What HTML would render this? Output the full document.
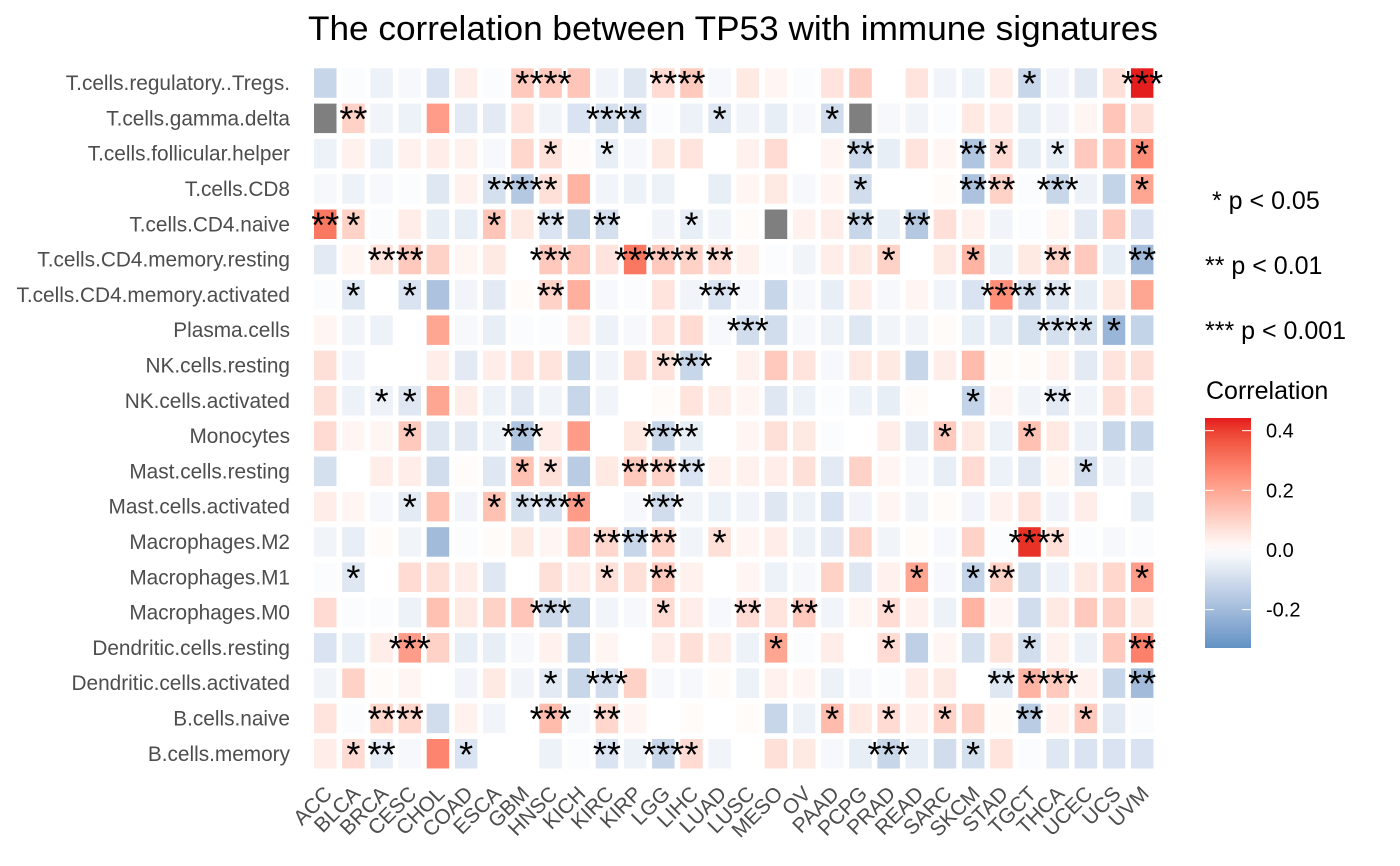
<!DOCTYPE html>
<html><head><meta charset="utf-8"><style>
html,body{margin:0;padding:0;background:#fff;}
svg{display:block;font-family:"Liberation Sans",Arial,sans-serif;}
</style></head><body>
<svg id="chart" width="1400" height="866" viewBox="0 0 1400 866" xmlns="http://www.w3.org/2000/svg">
<text x="733" y="40" text-anchor="middle" font-size="34" textLength="850" lengthAdjust="spacingAndGlyphs" fill="#000">The correlation between TP53 with immune signatures</text>
<g id="cells"></g>
<g id="stars"></g>
<g id="ylab"></g>
<g id="xlab"></g>
<g font-size="25" fill="#000">
<text x="1212" y="209">* p &lt; 0.05</text>
<text x="1205" y="274">** p &lt; 0.01</text>
<text x="1205" y="339">*** p &lt; 0.001</text>
</g>
<text x="1206" y="399" font-size="25" fill="#000">Correlation</text>
<defs><linearGradient id="cbg" x1="0" y1="1" x2="0" y2="0"></linearGradient></defs>
<rect x="1205" y="418" width="46" height="230" fill="url(#cbg)"/>
<g id="cbticks"></g>
</svg>
<script>
const cancers = ["ACC","BLCA","BRCA","CESC","CHOL","COAD","ESCA","GBM","HNSC","KICH","KIRC","KIRP","LGG","LIHC","LUAD","LUSC","MESO","OV","PAAD","PCPG","PRAD","READ","SARC","SKCM","STAD","TGCT","THCA","UCEC","UCS","UVM"];
const cellTypes = ["T.cells.regulatory..Tregs.","T.cells.gamma.delta","T.cells.follicular.helper","T.cells.CD8","T.cells.CD4.naive","T.cells.CD4.memory.resting","T.cells.CD4.memory.activated","Plasma.cells","NK.cells.resting","NK.cells.activated","Monocytes","Mast.cells.resting","Mast.cells.activated","Macrophages.M2","Macrophages.M1","Macrophages.M0","Dendritic.cells.resting","Dendritic.cells.activated","B.cells.naive","B.cells.memory"];
const legendTicks = [0.4,0.2,0.0,-0.2];
const legendLabels = ["0.4","0.2","0.0","-0.2"];
const corr = [
[-0.12,-0.01,-0.04,-0.02,-0.08,0.04,-0.01,0.12,0.12,0.13,-0.03,-0.07,0.08,0.12,-0.02,0.05,0.02,-0.01,0.06,0.11,0,0.06,-0.03,-0.04,0.04,-0.12,-0.03,-0.06,0.07,0.44],
[null,0.1,-0.03,-0.04,0.22,-0.06,-0.06,0.06,-0.03,-0.08,-0.09,-0.1,-0.01,-0.04,-0.07,-0.03,-0.05,-0.02,-0.1,null,-0.02,-0.03,-0.01,0.05,0.04,-0.05,-0.03,0.02,0.13,0.07],
[-0.04,0.03,-0.04,0.03,0.04,0.03,-0.02,0.09,0.07,0.01,-0.05,-0.02,0.05,0.06,0,0.03,0.08,0,0.02,-0.11,-0.05,0.06,0.02,-0.17,0.08,-0.05,-0.05,0.12,0.13,0.25],
[-0.02,-0.04,-0.02,-0.01,-0.07,0.03,-0.09,-0.16,0.07,0.17,-0.03,-0.04,-0.04,0,-0.05,0.02,0.05,-0.02,0.02,-0.1,0,0,0.01,-0.18,0.1,-0.01,-0.12,-0.04,-0.13,0.2],
[0.3,0.1,-0.01,0.04,-0.05,-0.05,0.13,0.05,-0.08,-0.12,-0.09,0,-0.03,-0.05,-0.03,0.01,null,0.03,0.04,-0.12,-0.05,-0.16,0.07,0.03,-0.03,-0.01,0.02,-0.06,0.12,-0.08],
[-0.06,0.02,0.06,0.12,0.1,0.02,0.05,0,0.12,0.12,0.06,0.3,0.12,0.1,0.08,0.03,-0.01,-0.03,0.04,0.05,0.1,0,0.05,0.17,-0.04,0.05,0.1,0.12,-0.05,-0.2],
[-0.01,-0.07,0,-0.08,-0.18,-0.03,-0.06,0.01,0.1,0.18,-0.02,-0.01,0.06,-0.03,-0.08,-0.02,-0.12,-0.02,-0.05,0.04,-0.02,0.02,-0.03,-0.08,0.25,-0.1,-0.07,-0.05,0.05,0.2],
[0.02,-0.03,-0.04,0,0.2,-0.02,-0.05,-0.01,-0.01,0.04,-0.04,-0.02,0.06,0.08,-0.02,-0.1,-0.1,-0.02,-0.04,-0.07,-0.03,-0.03,0.01,-0.05,-0.05,-0.09,-0.09,-0.09,-0.22,-0.13],
[0.07,-0.03,0,0,0.04,-0.06,0.04,0.06,0.06,-0.12,-0.03,0.07,0.07,-0.12,0,0.03,0.12,0.06,-0.02,0.05,0.05,-0.12,0.04,0.15,0.01,0.01,0.03,-0.06,0.06,0.07],
[0.07,-0.04,-0.04,-0.07,0.2,0.04,-0.04,-0.06,-0.03,-0.12,-0.03,0,0.01,0.06,0.04,0.02,-0.07,-0.04,-0.01,-0.04,-0.05,0.01,0,-0.13,0.02,-0.03,-0.06,-0.03,0.07,0.06],
[0.08,0.02,0.02,0.12,-0.07,-0.06,-0.04,-0.17,0.04,0.22,0,0.05,-0.12,-0.05,0,0.02,0.07,0.05,-0.01,0,0.04,-0.06,0.12,0.05,-0.04,0.14,0.05,-0.04,-0.12,-0.12],
[-0.09,0,0.04,0.04,-0.1,0.01,-0.07,0.14,0.07,-0.15,0.05,0.12,0.1,-0.08,0.03,0.03,0.04,0.07,-0.06,0.1,0.02,-0.02,-0.05,0.08,-0.04,-0.06,0.02,-0.1,-0.03,-0.03],
[0.04,0.02,-0.02,-0.06,0.14,-0.03,0.14,-0.09,-0.09,0.22,0,-0.02,-0.1,-0.03,-0.04,-0.03,-0.07,-0.04,-0.08,-0.03,0.02,-0.03,0.01,-0.03,0.03,0.06,-0.03,0.04,0,-0.05],
[-0.03,-0.05,0.01,-0.03,-0.2,-0.01,0.01,0.05,0.02,0.12,0.09,-0.12,0.1,-0.03,0.07,0.02,0.04,-0.04,-0.06,0.1,-0.03,0.01,-0.02,0.1,-0.01,0.42,0.07,-0.01,-0.02,-0.01],
[-0.01,-0.07,0,0.08,0.07,0.04,-0.07,0,0.07,0.04,0.07,0.07,0.12,0.03,0,0.02,-0.04,-0.02,0.1,-0.07,0.03,0.2,-0.02,-0.13,0.1,-0.09,-0.04,0.05,0.09,0.22],
[0.08,-0.01,-0.01,-0.04,0.14,0.05,0.1,0.13,-0.11,-0.12,-0.03,-0.02,0.08,0.04,-0.02,0.08,0.06,0.12,-0.03,0.02,0.08,0.03,-0.04,0.17,0.02,-0.1,0.05,0.12,0.1,0.05],
[-0.08,-0.05,0.04,0.22,0.1,-0.05,-0.05,-0.02,0.03,-0.12,0.02,0,0.04,0.07,0.04,-0.04,0.2,-0.01,0.04,0,0.08,-0.14,0.02,-0.09,0.06,-0.1,0.03,-0.04,0.12,0.28],
[-0.03,0.1,0.01,0.02,0,-0.03,0.05,-0.03,-0.06,-0.12,-0.1,0.1,-0.02,-0.02,0.01,-0.04,0.03,0.02,-0.04,-0.02,-0.01,0.04,0.05,0,-0.07,0.17,0.12,0.03,-0.12,-0.2],
[0.06,-0.01,0.09,0.09,-0.1,0.03,-0.03,0,0.15,-0.02,0.09,0.02,0,0.01,0,0.01,-0.12,-0.04,0.15,0.05,0.08,0.03,0.1,0.1,0.01,-0.15,0.03,0.12,-0.06,-0.01],
[0.04,0.08,-0.05,-0.02,0.27,-0.08,0,0,-0.04,-0.01,-0.08,-0.04,-0.12,0.08,-0.03,0,0.07,0.05,-0.02,-0.05,-0.12,-0.05,-0.1,-0.09,0.06,-0.01,-0.07,-0.08,-0.08,-0.08]
];
const starCounts = [
[0,0,0,0,0,0,0,1,3,0,0,0,2,2,0,0,0,0,0,0,0,0,0,0,0,1,0,0,0,3],
[0,2,0,0,0,0,0,0,0,0,3,1,0,0,1,0,0,0,1,0,0,0,0,0,0,0,0,0,0,0],
[0,0,0,0,0,0,0,0,1,0,1,0,0,0,0,0,0,0,0,2,0,0,0,2,1,0,1,0,0,1],
[0,0,0,0,0,0,1,3,1,0,0,0,0,0,0,0,0,0,0,1,0,0,0,2,2,0,3,0,0,1],
[2,1,0,0,0,0,1,0,2,0,2,0,0,1,0,0,0,0,0,2,0,2,0,0,0,0,0,0,0,0],
[0,0,2,2,0,0,0,0,3,0,0,3,3,1,2,0,0,0,0,0,1,0,0,1,0,0,2,0,0,2],
[0,1,0,1,0,0,0,0,2,0,0,0,0,0,3,0,0,0,0,0,0,0,0,0,3,1,2,0,0,0],
[0,0,0,0,0,0,0,0,0,0,0,0,0,0,0,3,0,0,0,0,0,0,0,0,0,0,3,1,1,0],
[0,0,0,0,0,0,0,0,0,0,0,0,1,3,0,0,0,0,0,0,0,0,0,0,0,0,0,0,0,0],
[0,0,1,1,0,0,0,0,0,0,0,0,0,0,0,0,0,0,0,0,0,0,0,1,0,0,2,0,0,0],
[0,0,0,1,0,0,0,3,0,0,0,0,3,1,0,0,0,0,0,0,0,0,1,0,0,1,0,0,0,0],
[0,0,0,0,0,0,0,1,1,0,0,2,2,2,0,0,0,0,0,0,0,0,0,0,0,0,0,1,0,0],
[0,0,0,1,0,0,1,1,3,1,0,0,3,0,0,0,0,0,0,0,0,0,0,0,0,0,0,0,0,0],
[0,0,0,0,0,0,0,0,0,0,2,2,2,0,1,0,0,0,0,0,0,0,0,0,0,3,1,0,0,0],
[0,1,0,0,0,0,0,0,0,0,1,0,2,0,0,0,0,0,0,0,0,1,0,1,2,0,0,0,0,1],
[0,0,0,0,0,0,0,0,3,0,0,0,1,0,0,2,0,2,0,0,1,0,0,0,0,0,0,0,0,0],
[0,0,0,3,0,0,0,0,0,0,0,0,0,0,0,0,1,0,0,0,1,0,0,0,0,1,0,0,0,2],
[0,0,0,0,0,0,0,0,1,0,3,0,0,0,0,0,0,0,0,0,0,0,0,0,2,1,3,0,0,2],
[0,0,2,2,0,0,0,0,3,0,2,0,0,0,0,0,0,0,1,0,1,0,1,0,0,2,0,1,0,0],
[0,1,2,0,0,1,0,0,0,0,2,0,3,1,0,0,0,0,0,0,3,0,0,1,0,0,0,0,0,0]
];
</script>
<script>
const NS="http://www.w3.org/2000/svg";
const X0=314, DX=28.17, CW=22.5, Y0=68.3, DY=35.3, CH=29.5;
const VMAX=0.442;
const xPos = i => X0 + DX*i;
const yPos = j => Y0 + DY*j;
const cbY = v => 550 - v*(230/(VMAX+0.329));
function toLin(c){c/=255;return c<=0.04045?c/12.92:Math.pow((c+0.055)/1.055,2.4);}
function fromLin(c){c=c<=0.0031308?12.92*c:1.055*Math.pow(c,1/2.4)-0.055;return Math.max(0,Math.min(255,Math.round(c*255)));}
function rgb2lab(r,g,b){r=toLin(r);g=toLin(g);b=toLin(b);
 let x=(r*0.4124+g*0.3576+b*0.1805)/0.95047,y=r*0.2126+g*0.7152+b*0.0722,z=(r*0.0193+g*0.1192+b*0.9505)/1.08883;
 const f=t=>t>0.008856?Math.cbrt(t):7.787*t+16/116;x=f(x);y=f(y);z=f(z);
 return [116*y-16,500*(x-y),200*(y-z)];}
function lab2rgb(L,a,bb){let y=(L+16)/116,x=a/500+y,z=y-bb/200;
 const fi=t=>t*t*t>0.008856?t*t*t:(t-16/116)/7.787;x=fi(x)*0.95047;y=fi(y);z=fi(z)*1.08883;
 const r=x*3.2406+y*-1.5372+z*-0.4986,g=x*-0.9689+y*1.8758+z*0.0415,b=x*0.0557+y*-0.2040+z*1.0570;
 return "rgb("+fromLin(r)+","+fromLin(g)+","+fromLin(b)+")";}
const labW=rgb2lab(255,255,255), labR=rgb2lab(0xE4,0x1A,0x1C), labB=rgb2lab(0x37,0x7E,0xB8);
function color(v){
 if(v===null) return "#7f7f7f";
 let t=Math.min(1,Math.abs(v)/VMAX*(v<0?1.12:1)); const e=v>=0?labR:labB;
 return lab2rgb(labW[0]+(e[0]-labW[0])*t,labW[1]+(e[1]-labW[1])*t,labW[2]+(e[2]-labW[2])*t);
}
const gc=document.getElementById('cells'), gs=document.getElementById('stars');
corr.forEach((row,j)=>{row.forEach((v,i)=>{
 const r=document.createElementNS(NS,'rect');
 r.setAttribute('x',xPos(i));r.setAttribute('y',yPos(j));r.setAttribute('width',CW);r.setAttribute('height',CH);
 r.setAttribute('fill',color(v));
 
 
 gc.appendChild(r);
 const n=starCounts[j][i];
 if(n>0){const t=document.createElementNS(NS,'text');
  t.setAttribute('x',xPos(i)+CW/2);t.setAttribute('y',yPos(j)+CH/2+13);
  t.setAttribute('text-anchor','middle');t.setAttribute('font-size','36');t.setAttribute('fill','#000');
  t.textContent='*'.repeat(n);
  
  
  gs.appendChild(t);}
});});
const gy=document.getElementById('ylab');
cellTypes.forEach((n,j)=>{const t=document.createElementNS(NS,'text');
 t.setAttribute('x',290);t.setAttribute('y',yPos(j)+CH/2+7);t.setAttribute('text-anchor','end');
 t.setAttribute('font-size','20.8');t.setAttribute('fill','#4d4d4d');t.textContent=n;
 
 
 gy.appendChild(t);});
const gx=document.getElementById('xlab');
cancers.forEach((n,i)=>{const t=document.createElementNS(NS,'text');
 const cx=xPos(i)+CW/2+8, cy=795;
 t.setAttribute('transform','translate('+cx+','+cy+') rotate(-45)');t.setAttribute('text-anchor','end');
 t.setAttribute('font-size','21');t.setAttribute('fill','#4d4d4d');t.textContent=n;
 
 
 gx.appendChild(t);});
const grad=document.getElementById('cbg');
for(let k=0;k<=20;k++){const v=-0.329+(VMAX+0.329)*k/20;const s=document.createElementNS(NS,'stop');
 s.setAttribute('offset',(k/20));s.setAttribute('stop-color',color(v));grad.appendChild(s);}
const gt=document.getElementById('cbticks');
legendTicks.forEach((v,k)=>{const y=cbY(v);
 [[1205,1214],[1242,1251]].forEach(p=>{const l=document.createElementNS(NS,'line');
  l.setAttribute('x1',p[0]);l.setAttribute('x2',p[1]);l.setAttribute('y1',y);l.setAttribute('y2',y);
  l.setAttribute('stroke','#fff');l.setAttribute('stroke-width','1');
  
  
  gt.appendChild(l);});
 const t=document.createElementNS(NS,'text');t.setAttribute('x',1266);t.setAttribute('y',y+7);
 t.setAttribute('font-size','20');t.setAttribute('fill','#000');t.textContent=legendLabels[k];
 
 
 gt.appendChild(t);});
</script>
</body></html>
